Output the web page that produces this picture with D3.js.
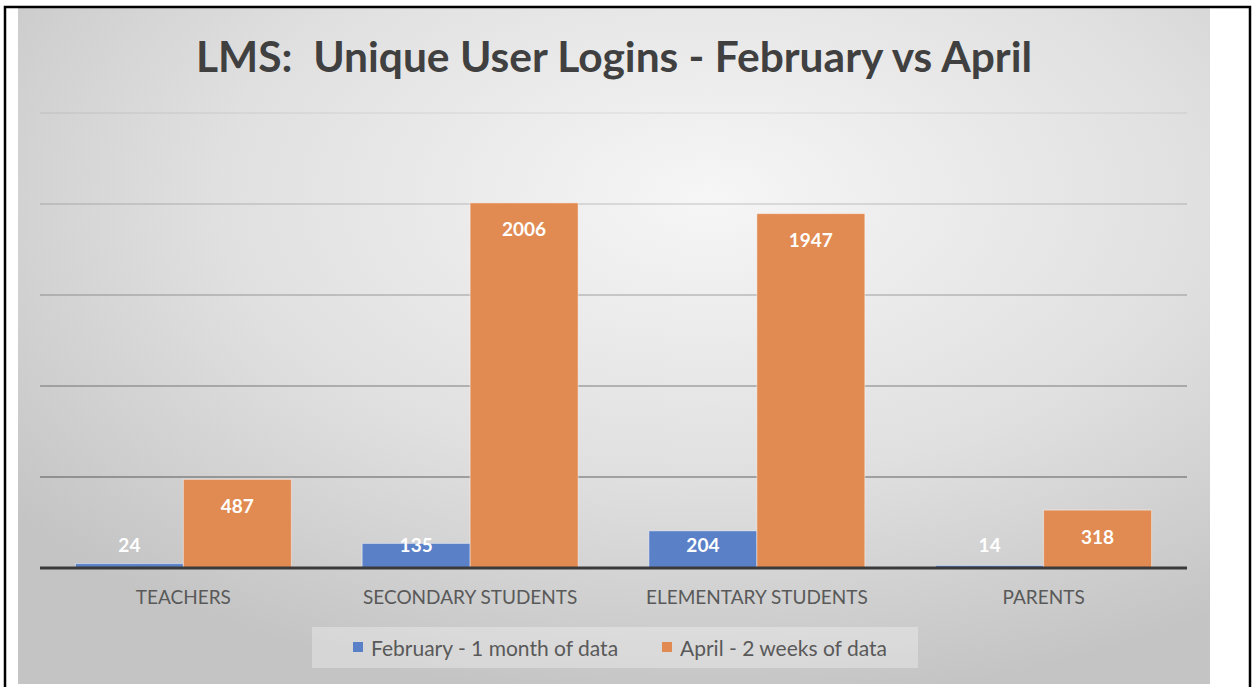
<!DOCTYPE html>
<html>
<head>
<meta charset="utf-8">
<script src="https://cdn.jsdelivr.net/npm/d3@7"></script>
<style>
  body { margin: 0; background: #fff; }
  svg text { font-family: Lato, "Open Sans", sans-serif; }
</style>
</head>
<body>
<div id="chart"></div>
<script>
// data
const categories = ["TEACHERS", "SECONDARY STUDENTS", "ELEMENTARY STUDENTS", "PARENTS"];
const seriesNames = ["February - 1 month of data", "April - 2 weeks of data"];
const february = [24, 135, 204, 14];
const april = [487, 2006, 1947, 318];
const yTicks = [0, 500, 1000, 1500, 2000, 2500];
const colors = ["#5a80c8", "#e18a52"];

const width = 1256, height = 687;
const svg = d3.select("#chart").append("svg")
    .attr("width", width)
    .attr("height", height);

// background gradient like the Excel chart area
const defs = svg.append("defs");
const grad = defs.append("radialGradient")
    .attr("id", "bg")
    .attr("cx", "58%").attr("cy", "28%").attr("r", "75%");
grad.append("stop").attr("offset", "0%").attr("stop-color", "#f6f6f6");
grad.append("stop").attr("offset", "55%").attr("stop-color", "#e0e0e0");
grad.append("stop").attr("offset", "100%").attr("stop-color", "#c4c4c4");

svg.append("rect")
    .attr("x", 18).attr("y", 8)
    .attr("width", 1192).attr("height", 676)
    .attr("fill", "url(#bg)");

// outer frame
svg.append("path")
    .attr("d", "M5,687 V7 H1250 V687")
    .attr("fill", "none")
    .attr("stroke", "#000")
    .attr("stroke-width", 2.5);

const plot = { left: 40, right: 1187, top: 113, bottom: 568 };

const x0 = d3.scaleBand()
    .domain(categories)
    .range([plot.left, plot.right])
    .padding(0);

const x1 = d3.scaleBand()
    .domain(seriesNames)
    .range([0, x0.bandwidth()])
    .paddingInner(0)
    .paddingOuter(0.328);

const y = d3.scaleLinear()
    .domain([0, 2500])
    .range([plot.bottom, plot.top]);

// gridlines, fainter toward the top like the original
const gridOpacity = d3.scaleLinear().domain([2500, 500]).range([0.06, 0.38]);
svg.append("g")
    .selectAll("line")
    .data(yTicks.filter(t => t > 0))
    .join("line")
    .attr("x1", plot.left).attr("x2", plot.right)
    .attr("y1", d => y(d)).attr("y2", d => y(d))
    .attr("stroke", "#000")
    .attr("stroke-opacity", d => gridOpacity(d))
    .attr("stroke-width", 1.5);

// bars
const rows = categories.map((c, i) => ({
    cat: c,
    vals: [
        { s: seriesNames[0], v: february[i], k: 0 },
        { s: seriesNames[1], v: april[i], k: 1 }
    ]
}));

const groups = svg.append("g")
    .selectAll("g")
    .data(rows)
    .join("g")
    .attr("transform", d => `translate(${x0(d.cat)},0)`);

groups.selectAll("rect")
    .data(d => d.vals)
    .join("rect")
    .attr("x", d => x1(d.s))
    .attr("y", d => y(d.v))
    .attr("width", x1.bandwidth())
    .attr("height", d => y(0) - y(d.v))
    .attr("fill", d => colors[d.k])
    .attr("stroke", "rgba(255,255,255,0.45)")
    .attr("stroke-width", 1);

// value labels (inside end, kept above the axis for small bars)
groups.selectAll("text")
    .data(d => d.vals)
    .join("text")
    .attr("x", d => x1(d.s) + x1.bandwidth() / 2)
    .attr("y", d => Math.min(y(d.v) + 26, y(0) - 24))
    .attr("text-anchor", "middle")
    .attr("dominant-baseline", "central")
    .attr("fill", "#fff")
    .style("font-size", "19px")
    .style("font-weight", "bold")
    .text(d => d.v);

// baseline
svg.append("line")
    .attr("x1", plot.left).attr("x2", plot.right)
    .attr("y1", y(0)).attr("y2", y(0))
    .attr("stroke", "#3a3a3a")
    .attr("stroke-width", 3);

// category axis
const xAxis = svg.append("g")
    .attr("transform", `translate(0,${y(0)})`)
    .call(d3.axisBottom(x0).tickSize(0).tickPadding(23));
xAxis.select(".domain").remove();
xAxis.selectAll("text")
    .attr("fill", "#595959")
    .style("font-size", "19px");

// title
svg.append("text")
    .attr("x", 614)
    .attr("y", 72)
    .attr("text-anchor", "middle")
    .attr("fill", "#404040")
    .style("font-size", "42.5px")
    .style("font-weight", "bold")
    .text("LMS:\u00a0\u00a0Unique User Logins - February vs April");

// legend
svg.append("rect")
    .attr("x", 312).attr("y", 627)
    .attr("width", 606).attr("height", 41)
    .attr("fill", "#fff")
    .attr("fill-opacity", 0.3);

const legendX = [353, 662];
const legend = svg.append("g")
    .selectAll("g")
    .data(seriesNames)
    .join("g")
    .attr("transform", (d, i) => `translate(${legendX[i]},647)`);
legend.append("rect")
    .attr("x", 0).attr("y", -5)
    .attr("width", 10).attr("height", 10)
    .attr("fill", (d, i) => colors[i]);
legend.append("text")
    .attr("x", 18)
    .attr("y", 0)
    .attr("dominant-baseline", "central")
    .attr("fill", "#595959")
    .style("font-size", "21px")
    .text(d => d);
</script>
</body>
</html>
